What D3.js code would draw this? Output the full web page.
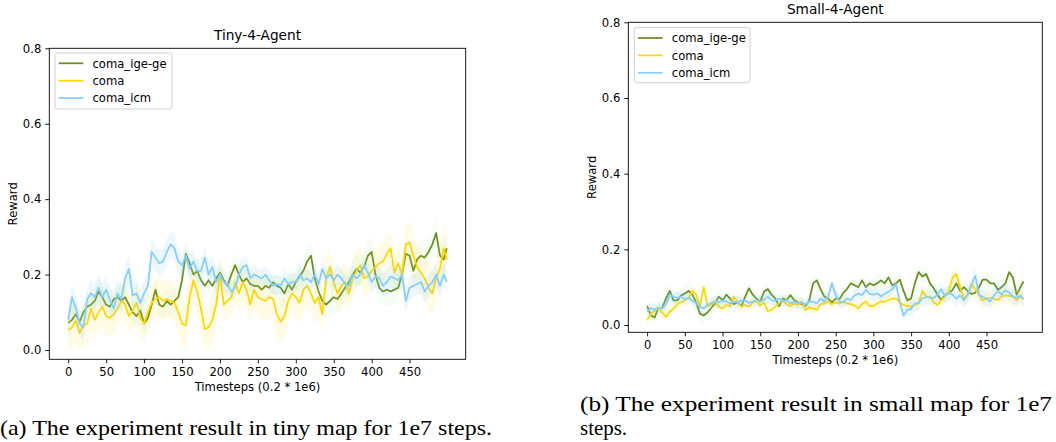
<!DOCTYPE html>
<html>
<head>
<meta charset="utf-8">
<script src="https://cdn.jsdelivr.net/npm/d3@7"></script>
<style>
html,body{margin:0;padding:0;background:#fff;}
svg{display:block;}
</style>
</head>
<body>
<svg id="chart" width="1056" height="442"></svg>
<script>
// ---------------- DATA ----------------
const steps = [...d3.range(0, 500, 5), 499];
const xTicks = [0, 50, 100, 150, 200, 250, 300, 350, 400, 450];
const yTicks = [0.0, 0.2, 0.4, 0.6, 0.8];
const seriesNames = ["coma_ige-ge", "coma", "coma_icm"];
const titles = ["Tiny-4-Agent", "Small-4-Agent"];
const xLabel = "Timesteps (0.2 * 1e6)";
const yLabel = "Reward";
const captions = ["(a) The experiment result in tiny map for 1e7 steps.",
                  "(b) The experiment result in small map for 1e7", "steps."];

// Tiny-4-Agent
const tinyIgeGe = [
 0.072,0.08,0.095,0.075,0.10,0.115,0.12,0.13,0.155,0.14,
 0.12,0.115,0.135,0.14,0.13,0.14,0.12,0.10,0.09,0.105,
 0.07,0.085,0.12,0.16,0.12,0.115,0.13,0.12,0.13,0.14,
 0.185,0.255,0.23,0.20,0.21,0.185,0.17,0.185,0.17,0.19,
 0.205,0.185,0.17,0.20,0.225,0.20,0.18,0.19,0.175,0.17,
 0.17,0.16,0.17,0.165,0.18,0.17,0.165,0.15,0.175,0.16,
 0.18,0.195,0.21,0.235,0.25,0.19,0.155,0.13,0.12,0.13,
 0.14,0.135,0.15,0.165,0.18,0.20,0.215,0.205,0.22,0.25,
 0.26,0.20,0.165,0.155,0.16,0.155,0.16,0.165,0.20,0.255,
 0.25,0.21,0.24,0.25,0.245,0.26,0.28,0.31,0.25,0.24,
 0.27];
const tinyComa = [
 0.053,0.06,0.078,0.045,0.065,0.07,0.11,0.08,0.10,0.115,
 0.09,0.085,0.095,0.11,0.13,0.12,0.09,0.105,0.125,0.085,
 0.07,0.10,0.125,0.135,0.14,0.13,0.135,0.13,0.125,0.10,
 0.07,0.065,0.14,0.185,0.155,0.11,0.055,0.06,0.08,0.12,
 0.20,0.12,0.13,0.14,0.18,0.15,0.18,0.16,0.12,0.16,
 0.14,0.135,0.13,0.14,0.135,0.095,0.075,0.09,0.13,0.15,
 0.14,0.125,0.16,0.17,0.15,0.125,0.14,0.095,0.19,0.22,
 0.18,0.15,0.17,0.18,0.15,0.19,0.21,0.225,0.19,0.195,
 0.21,0.22,0.23,0.235,0.255,0.27,0.205,0.23,0.20,0.28,
 0.285,0.25,0.22,0.205,0.19,0.165,0.15,0.19,0.215,0.27,
 0.24];
const tinyIcm = [
 0.08,0.14,0.11,0.07,0.06,0.135,0.15,0.14,0.165,0.14,
 0.16,0.133,0.11,0.15,0.135,0.19,0.215,0.145,0.15,0.125,
 0.15,0.17,0.26,0.245,0.23,0.235,0.26,0.28,0.27,0.235,
 0.225,0.25,0.215,0.235,0.21,0.21,0.245,0.20,0.22,0.18,
 0.20,0.18,0.175,0.155,0.165,0.20,0.22,0.225,0.19,0.20,
 0.195,0.19,0.20,0.185,0.17,0.175,0.17,0.19,0.175,0.18,
 0.18,0.20,0.185,0.19,0.18,0.20,0.175,0.215,0.19,0.20,
 0.185,0.20,0.19,0.175,0.17,0.20,0.19,0.20,0.225,0.205,
 0.18,0.195,0.19,0.17,0.18,0.195,0.19,0.185,0.20,0.13,
 0.165,0.17,0.175,0.18,0.155,0.17,0.18,0.20,0.17,0.20,
 0.18];
// band half-widths, one per 50 timesteps
const tinyIgeGeSpread = [0.035,0.035,0.03,0.035,0.035,0.03,0.04,0.04,0.04,0.04];
const tinyComaSpread  = [0.055,0.05,0.05,0.06,0.05,0.055,0.055,0.05,0.05,0.06];
const tinyIcmSpread   = [0.035,0.035,0.035,0.03,0.025,0.025,0.025,0.025,0.03,0.03];

// Small-4-Agent
const smallIgeGe = [
 0.05,0.025,0.02,0.045,0.045,0.07,0.09,0.065,0.065,0.078,
 0.083,0.09,0.08,0.06,0.03,0.025,0.033,0.045,0.057,0.075,
 0.065,0.08,0.07,0.055,0.06,0.05,0.075,0.097,0.08,0.07,
 0.062,0.088,0.095,0.08,0.07,0.05,0.07,0.066,0.079,0.066,
 0.06,0.055,0.05,0.065,0.11,0.118,0.095,0.075,0.07,0.06,
 0.07,0.068,0.085,0.095,0.11,0.105,0.10,0.118,0.10,0.11,
 0.105,0.11,0.118,0.11,0.126,0.105,0.11,0.12,0.09,0.065,
 0.07,0.11,0.14,0.128,0.135,0.11,0.097,0.08,0.066,0.08,
 0.084,0.093,0.11,0.09,0.10,0.09,0.082,0.085,0.10,0.12,
 0.12,0.11,0.11,0.093,0.10,0.11,0.14,0.125,0.08,0.10,
 0.115];
const smallComa = [
 0.013,0.03,0.037,0.044,0.033,0.022,0.035,0.043,0.055,0.06,
 0.066,0.07,0.09,0.08,0.048,0.10,0.05,0.053,0.062,0.048,
 0.044,0.053,0.05,0.075,0.06,0.048,0.053,0.048,0.06,0.063,
 0.052,0.06,0.037,0.04,0.048,0.058,0.065,0.055,0.05,0.057,
 0.053,0.062,0.04,0.046,0.044,0.04,0.055,0.057,0.062,0.055,
 0.06,0.057,0.062,0.057,0.055,0.052,0.044,0.055,0.062,0.05,
 0.05,0.057,0.062,0.062,0.066,0.07,0.07,0.06,0.053,0.05,
 0.048,0.053,0.057,0.09,0.075,0.075,0.06,0.053,0.065,0.075,
 0.09,0.125,0.135,0.10,0.07,0.08,0.108,0.095,0.08,0.065,
 0.07,0.072,0.07,0.066,0.075,0.078,0.077,0.075,0.066,0.075,
 0.068];
const smallIcm = [
 0.035,0.045,0.04,0.046,0.044,0.055,0.079,0.075,0.072,0.075,
 0.068,0.072,0.064,0.058,0.048,0.044,0.053,0.058,0.063,0.06,
 0.064,0.062,0.057,0.062,0.06,0.065,0.064,0.058,0.062,0.066,
 0.062,0.067,0.075,0.066,0.064,0.07,0.062,0.066,0.057,0.061,
 0.058,0.06,0.054,0.062,0.062,0.057,0.07,0.062,0.075,0.11,
 0.08,0.062,0.06,0.07,0.066,0.078,0.083,0.079,0.093,0.082,
 0.08,0.084,0.076,0.082,0.088,0.095,0.108,0.06,0.025,0.04,
 0.042,0.057,0.058,0.07,0.074,0.072,0.072,0.08,0.095,0.076,
 0.085,0.08,0.07,0.078,0.065,0.08,0.105,0.13,0.08,0.074,
 0.07,0.062,0.078,0.09,0.08,0.092,0.085,0.075,0.072,0.078,
 0.068];
const smallIgeGeSpread = [0.02,0.02,0.015,0.015,0.015,0.015,0.02,0.02,0.02,0.025];
const smallComaSpread  = [0.015,0.015,0.015,0.015,0.015,0.015,0.015,0.015,0.02,0.02];
const smallIcmSpread   = [0.015,0.015,0.015,0.015,0.015,0.015,0.015,0.02,0.02,0.02];

// ---------------- STYLE ----------------
const lineColors = ["#6b8e23", "#ffd700", "#87cefa"];
const bandColors = ["#90ee90", "#ffd700", "#87cefa"];
const bandOpacity = [0.09, 0.1, 0.16];
const FONT = "'DejaVu Sans', sans-serif";

const panels = [
  {title: titles[0], left: 49.3, right: 465.7, top: 48.3, bottom: 359.3, yMin: -0.0247,
   values: [tinyIgeGe, tinyComa, tinyIcm], spreads: [tinyIgeGeSpread, tinyComaSpread, tinyIcmSpread],
   legend: {x: 55, y: 53, w: 117, h: 56}},
  {title: titles[1], left: 628.3, right: 1042.3, top: 22.3, bottom: 332.3, yMin: -0.0193,
   values: [smallIgeGe, smallComa, smallIcm], spreads: [smallIgeGeSpread, smallComaSpread, smallIcmSpread],
   legend: {x: 634.3, y: 27.7, w: 115.7, h: 55}}
];

const svg = d3.select("#chart");

panels.forEach(p => {
  const x = d3.scaleLinear().domain([-24.95, 523.95]).range([p.left, p.right]);
  const y = d3.scaleLinear().domain([p.yMin, 0.8]).range([p.bottom, p.top]);
  const g = svg.append("g");
  const clipId = "clip" + Math.round(p.left);
  svg.append("clipPath").attr("id", clipId).append("rect")
    .attr("x", p.left).attr("y", p.top).attr("width", p.right - p.left).attr("height", p.bottom - p.top);
  const plot = g.append("g").attr("clip-path", `url(#${clipId})`);

  p.values.forEach((vals, si) => {
    const sp = p.spreads[si];
    const pts = steps.map((t, i) => ({t, v: vals[i], s: sp[Math.min(sp.length - 1, Math.floor(t / 50))]}));
    const area = d3.area().x(d => x(d.t)).y0(d => y(d.v - d.s)).y1(d => y(d.v + d.s));
    plot.append("path").attr("d", area(pts))
      .attr("fill", bandColors[si]).attr("fill-opacity", bandOpacity[si]).attr("stroke", "none");
    const line = d3.line().x(d => x(d.t)).y(d => y(d.v));
    plot.append("path").attr("d", line(pts))
      .attr("fill", "none").attr("stroke", lineColors[si]).attr("stroke-width", 1.75)
      .attr("stroke-linejoin", "round").attr("stroke-linecap", "butt");
  });

  // axes
  const xAxis = d3.axisBottom(x).tickValues(xTicks).tickSize(4).tickPadding(4).tickFormat(d3.format("d"));
  const yAxis = d3.axisLeft(y).tickValues(yTicks).tickSize(4).tickPadding(4).tickFormat(d3.format(".1f"));
  const gx = g.append("g").attr("transform", `translate(0,${p.bottom})`).call(xAxis);
  const gy = g.append("g").attr("transform", `translate(${p.left},0)`).call(yAxis);
  [gx, gy].forEach(a => {
    a.select(".domain").remove();
    a.selectAll(".tick line").attr("stroke", "#000").attr("stroke-width", 0.9);
    a.selectAll(".tick text").attr("font-family", FONT).attr("font-size", "11.6px").attr("fill", "#000");
  });

  // frame
  g.append("rect").attr("x", p.left).attr("y", p.top)
    .attr("width", p.right - p.left).attr("height", p.bottom - p.top)
    .attr("fill", "none").attr("stroke", "#000").attr("stroke-width", 0.9);

  // title & labels
  g.append("text").attr("x", (p.left + p.right) / 2).attr("y", p.top - 8.3)
    .attr("text-anchor", "middle").attr("font-family", FONT).attr("font-size", "13.7px").text(p.title);
  g.append("text").attr("x", (p.left + p.right) / 2).attr("y", p.bottom + 31.7)
    .attr("text-anchor", "middle").attr("font-family", FONT).attr("font-size", "11.6px").text(xLabel);
  g.append("text").attr("transform", `translate(${p.left - 32.8},${(p.top + p.bottom) / 2}) rotate(-90)`)
    .attr("text-anchor", "middle").attr("font-family", FONT).attr("font-size", "11.6px").text(yLabel);

  // legend
  const L = p.legend;
  g.append("rect").attr("x", L.x).attr("y", L.y).attr("width", L.w).attr("height", L.h)
    .attr("rx", 2.5).attr("fill", "#fff").attr("fill-opacity", 0.8)
    .attr("stroke", "#cccccc").attr("stroke-width", 0.9);
  seriesNames.forEach((name, i) => {
    const ey = L.y + 10.3 + i * 17.4;
    g.append("line").attr("x1", L.x + 3.7).attr("x2", L.x + 28.3).attr("y1", ey).attr("y2", ey)
      .attr("stroke", lineColors[i]).attr("stroke-width", 1.75);
    g.append("text").attr("x", L.x + 37.5).attr("y", ey + 4.2)
      .attr("font-family", FONT).attr("font-size", "11.6px").text(name);
  });
});

// captions
const CFONT = "'Liberation Serif', 'Times New Roman', serif";
svg.append("text").attr("x", 0).attr("y", 435).attr("font-family", CFONT).attr("font-size", "22px")
  .attr("textLength", 492).attr("lengthAdjust", "spacingAndGlyphs").text(captions[0]);
svg.append("text").attr("x", 580).attr("y", 411).attr("font-family", CFONT).attr("font-size", "22px")
  .attr("textLength", 472).attr("lengthAdjust", "spacingAndGlyphs").text(captions[1]);
svg.append("text").attr("x", 580).attr("y", 435).attr("font-family", CFONT).attr("font-size", "22px")
  .attr("textLength", 47).attr("lengthAdjust", "spacingAndGlyphs").text(captions[2]);
</script>
</body>
</html>
